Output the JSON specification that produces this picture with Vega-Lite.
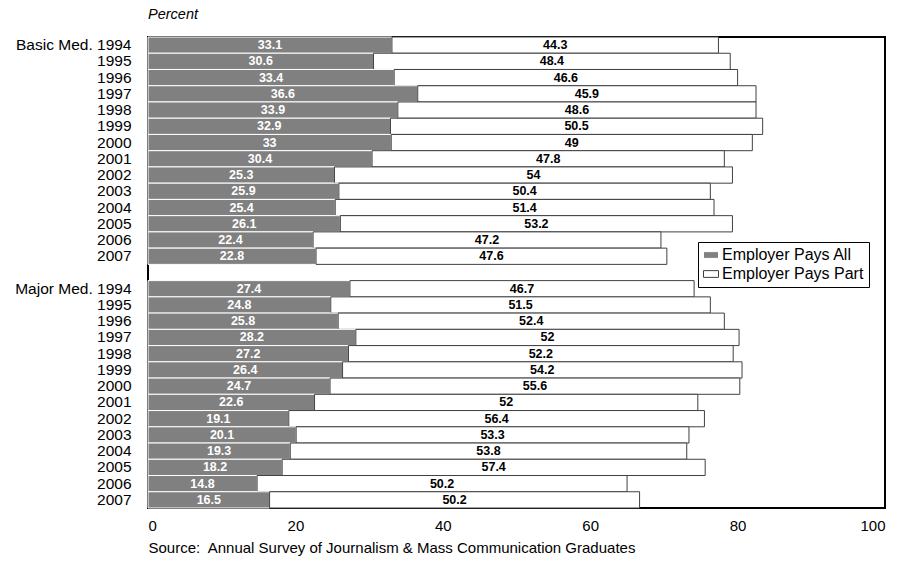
{
  "$schema": "https://vega.github.io/schema/vega-lite/v6.json",
  "autosize": {"type": "none"},
  "padding": {"left": 148, "top": 37, "right": 17, "bottom": 59},
  "width": 737,
  "height": 471,
  "background": "white",
  "config": {
    "font": "Liberation Sans",
    "view": {"stroke": "black", "strokeWidth": 2}
  },
  "title": {"text": "Percent", "anchor": "start", "frame": "group", "fontStyle": "italic", "fontWeight": "normal", "fontSize": 14.5, "font": "Liberation Sans", "color": "black", "offset": 14},
  "data": {"values": [
    {"row":"B1994","series":"Employer Pays All","value":33.1},{"row":"B1994","series":"Employer Pays Part","value":44.3},
    {"row":"B1995","series":"Employer Pays All","value":30.6},{"row":"B1995","series":"Employer Pays Part","value":48.4},
    {"row":"B1996","series":"Employer Pays All","value":33.4},{"row":"B1996","series":"Employer Pays Part","value":46.6},
    {"row":"B1997","series":"Employer Pays All","value":36.6},{"row":"B1997","series":"Employer Pays Part","value":45.9},
    {"row":"B1998","series":"Employer Pays All","value":33.9},{"row":"B1998","series":"Employer Pays Part","value":48.6},
    {"row":"B1999","series":"Employer Pays All","value":32.9},{"row":"B1999","series":"Employer Pays Part","value":50.5},
    {"row":"B2000","series":"Employer Pays All","value":33},{"row":"B2000","series":"Employer Pays Part","value":49},
    {"row":"B2001","series":"Employer Pays All","value":30.4},{"row":"B2001","series":"Employer Pays Part","value":47.8},
    {"row":"B2002","series":"Employer Pays All","value":25.3},{"row":"B2002","series":"Employer Pays Part","value":54},
    {"row":"B2003","series":"Employer Pays All","value":25.9},{"row":"B2003","series":"Employer Pays Part","value":50.4},
    {"row":"B2004","series":"Employer Pays All","value":25.4},{"row":"B2004","series":"Employer Pays Part","value":51.4},
    {"row":"B2005","series":"Employer Pays All","value":26.1},{"row":"B2005","series":"Employer Pays Part","value":53.2},
    {"row":"B2006","series":"Employer Pays All","value":22.4},{"row":"B2006","series":"Employer Pays Part","value":47.2},
    {"row":"B2007","series":"Employer Pays All","value":22.8},{"row":"B2007","series":"Employer Pays Part","value":47.6},
    {"row":"M1994","series":"Employer Pays All","value":27.4},{"row":"M1994","series":"Employer Pays Part","value":46.7},
    {"row":"M1995","series":"Employer Pays All","value":24.8},{"row":"M1995","series":"Employer Pays Part","value":51.5},
    {"row":"M1996","series":"Employer Pays All","value":25.8},{"row":"M1996","series":"Employer Pays Part","value":52.4},
    {"row":"M1997","series":"Employer Pays All","value":28.2},{"row":"M1997","series":"Employer Pays Part","value":52},
    {"row":"M1998","series":"Employer Pays All","value":27.2},{"row":"M1998","series":"Employer Pays Part","value":52.2},
    {"row":"M1999","series":"Employer Pays All","value":26.4},{"row":"M1999","series":"Employer Pays Part","value":54.2},
    {"row":"M2000","series":"Employer Pays All","value":24.7},{"row":"M2000","series":"Employer Pays Part","value":55.6},
    {"row":"M2001","series":"Employer Pays All","value":22.6},{"row":"M2001","series":"Employer Pays Part","value":52},
    {"row":"M2002","series":"Employer Pays All","value":19.1},{"row":"M2002","series":"Employer Pays Part","value":56.4},
    {"row":"M2003","series":"Employer Pays All","value":20.1},{"row":"M2003","series":"Employer Pays Part","value":53.3},
    {"row":"M2004","series":"Employer Pays All","value":19.3},{"row":"M2004","series":"Employer Pays Part","value":53.8},
    {"row":"M2005","series":"Employer Pays All","value":18.2},{"row":"M2005","series":"Employer Pays Part","value":57.4},
    {"row":"M2006","series":"Employer Pays All","value":14.8},{"row":"M2006","series":"Employer Pays Part","value":50.2},
    {"row":"M2007","series":"Employer Pays All","value":16.5},{"row":"M2007","series":"Employer Pays Part","value":50.2}
  ]},
  "transform": [
    {"stack": "value", "groupby": ["row"], "sort": [{"field": "series", "order": "ascending"}], "as": ["v0", "v1"]},
    {"calculate": "(datum.v0 + datum.v1) / 2", "as": "mid"}
  ],
  "encoding": {
    "y": {
      "field": "row", "type": "ordinal",
      "scale": {
        "domain": ["B1994","B1995","B1996","B1997","B1998","B1999","B2000","B2001","B2002","B2003","B2004","B2005","B2006","B2007","gap","M1994","M1995","M1996","M1997","M1998","M1999","M2000","M2001","M2002","M2003","M2004","M2005","M2006","M2007"],
        "paddingInner": 0, "paddingOuter": 0
      },
      "axis": {
        "title": null, "ticks": false, "domain": false, "labelPadding": 17,
        "labelFontSize": 15.5, "labelColor": "black", "labelFont": "Liberation Sans",
        "labelExpr": "datum.value == 'B1994' ? 'Basic Med. 1994' : datum.value == 'M1994' ? 'Major Med. 1994' : datum.value == 'gap' ? '' : substring(datum.value, 1)"
      }
    }
  },
  "layer": [
    {
      "mark": {"type": "bar", "strokeWidth": 1},
      "encoding": {
        "x": {"field": "v0", "type": "quantitative",
          "scale": {"domain": [0, 100], "nice": false},
          "axis": {"values": [0, 20, 40, 60, 80, 100], "grid": false, "ticks": false, "domain": false,
            "labelFontSize": 15, "labelColor": "black", "labelPadding": 10, "labelFont": "Liberation Sans",
            "title": "Source:\u00a0 Annual Survey of Journalism & Mass Communication Graduates",
            "titleAnchor": "start", "titleAlign": "left", "titleFontWeight": "normal", "titleFontSize": 15,
            "titleColor": "black", "titleFont": "Liberation Sans", "titlePadding": 7}},
        "x2": {"field": "v1"},
        "fill": {"field": "series", "type": "nominal",
          "scale": {"domain": ["Employer Pays All", "Employer Pays Part"], "range": ["#808080", "white"]},
          "legend": {"title": null, "orient": "none", "legendX": 550, "legendY": 205,
            "strokeColor": "black", "padding": 5, "fillColor": "white",
            "symbolType": "M-1,-0.45L1,-0.45L1,0.45L-1,0.45Z", "symbolSize": 225, "symbolStrokeWidth": 1,
            "labelFontSize": 16, "labelColor": "black", "labelFont": "Liberation Sans", "labelOffset": 3, "rowPadding": 3}},
        "stroke": {"field": "series", "type": "nominal",
          "scale": {"domain": ["Employer Pays All", "Employer Pays Part"], "range": ["white", "#404040"]}}
      }
    },
    {
      "mark": {"type": "text", "align": "center", "baseline": "middle", "fontWeight": "bold", "fontSize": 12.5, "font": "Liberation Sans"},
      "encoding": {
        "x": {"field": "mid", "type": "quantitative"},
        "text": {"field": "value", "type": "nominal"},
        "color": {"condition": {"test": "datum.series == 'Employer Pays All'", "value": "white"}, "value": "black"}
      }
    }
  ]
}
